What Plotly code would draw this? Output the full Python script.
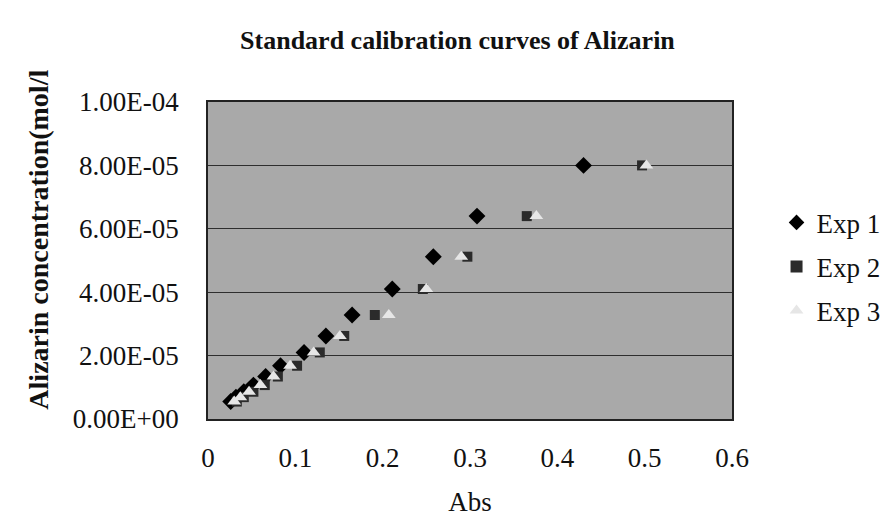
import plotly.graph_objects as go

# Concentrations (mol/l) — common to all experiments
conc = [8.0e-5, 6.4e-5, 5.12e-5, 4.1e-5, 3.28e-5, 2.62e-5, 2.1e-5,
        1.68e-5, 1.34e-5, 1.07e-5, 0.86e-5, 0.69e-5, 0.55e-5]

# Absorbance readings
abs_exp1 = [0.430, 0.308, 0.258, 0.211, 0.165, 0.135, 0.110,
            0.083, 0.066, 0.052, 0.041, 0.032, 0.026]
abs_exp2 = [0.497, 0.365, 0.297, 0.246, 0.191, 0.156, 0.128,
            0.102, 0.080, 0.065, 0.052, 0.041, 0.033]
abs_exp3 = [0.502, 0.376, 0.290, 0.250, 0.207, 0.151, 0.121,
            0.094, 0.075, 0.060, 0.047, 0.037, 0.030]

series_names = ["Exp 1", "Exp 2", "Exp 3"]

x_ticks = [0, 0.1, 0.2, 0.3, 0.4, 0.5, 0.6]
y_ticks = [0, 2e-5, 4e-5, 6e-5, 8e-5, 1e-4]
y_tick_labels = ["0.00E+00", "2.00E-05", "4.00E-05", "6.00E-05", "8.00E-05", "1.00E-04"]

FONT = "Liberation Serif, Times New Roman, serif"

fig = go.Figure()
fig.add_trace(go.Scatter(x=abs_exp1, y=conc, mode="markers", name=series_names[0],
                         legendgroup="g1",
                         marker=dict(symbol="diamond", size=13, color="#000000")))
fig.add_trace(go.Scatter(x=abs_exp2, y=conc, mode="markers", name=series_names[1],
                         legendgroup="g2",
                         marker=dict(symbol="square", size=10, color="#2b2b2b")))
fig.add_trace(go.Scatter(x=abs_exp3, y=conc, mode="markers", name=series_names[2],
                         legendgroup="g3",
                         marker=dict(symbol="triangle-up", size=12, color="#e6e6e6")))

fig.update_layout(
    width=890, height=532,
    paper_bgcolor="white",
    plot_bgcolor="#a9a9a9",
    margin=dict(l=200, r=145, t=94, b=121),
    font=dict(family=FONT, color="#111111"),
    title=dict(text="<b>Standard calibration curves of Alizarin</b>",
               font=dict(size=26, family=FONT), x=0.505, xanchor="center",
               y=0.94, yanchor="middle"),
    showlegend=True,
    legend=dict(x=1.085, xanchor="left", y=0.48, yanchor="middle",
                font=dict(size=27, family=FONT), bgcolor="rgba(0,0,0,0)",
                itemsizing="constant", tracegroupgap=6),
    annotations=[dict(text="<b>Alizarin concentration(mol/l</b>",
                      xref="paper", yref="paper", x=-0.323, y=0.565,
                      xanchor="center", yanchor="middle", textangle=-90,
                      showarrow=False, font=dict(size=28, family=FONT))],
)

fig.update_xaxes(
    range=[0, 0.6], tickvals=x_ticks, ticktext=[str(v) for v in x_ticks],
    showgrid=False, zeroline=False,
    showline=True, linecolor="#222222", linewidth=1.5, mirror=True,
    ticks="", ticklabelstandoff=14,
    tickfont=dict(size=27, family=FONT),
    title=dict(text="Abs", font=dict(size=27, family=FONT), standoff=20),
)
fig.update_yaxes(
    range=[0, 1e-4], tickvals=y_ticks, ticktext=y_tick_labels,
    showgrid=True, gridcolor="#2e2e2e", gridwidth=1, zeroline=False,
    showline=True, linecolor="#222222", linewidth=1.5, mirror=True,
    ticks="", ticklabelstandoff=22,
    tickfont=dict(size=27, family=FONT),
)

fig.write_html("out.html")
